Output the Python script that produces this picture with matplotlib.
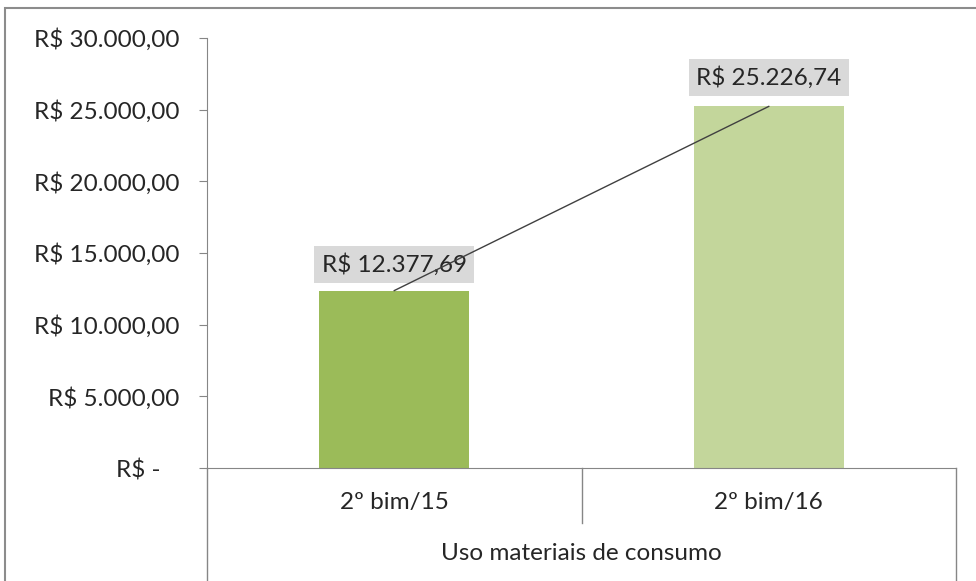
import matplotlib
matplotlib.use("Agg")
import matplotlib.pyplot as plt
from matplotlib.patches import Rectangle

plt.rcParams['font.family'] = ['Lato', 'DejaVu Sans']

categories = ["2º bim/15", "2º bim/16"]
values = [12377.69, 25226.74]
value_labels = ["R$ 12.377,69", "R$ 25.226,74"]
group_label = "Uso materiais de consumo"
yticks = [0, 5000, 10000, 15000, 20000, 25000, 30000]
ytick_labels = ["R$ -   ", "R$ 5.000,00", "R$ 10.000,00", "R$ 15.000,00",
                "R$ 20.000,00", "R$ 25.000,00", "R$ 30.000,00"]
bar_colors = ["#9bbb59", "#c3d69b"]
fs = 17.5

fig = plt.figure(figsize=(9.76, 5.81), dpi=100)
# outer chart frame
fig.patches.append(Rectangle((5 / 976, -0.1), 1.1, (581 - 8) / 581 + 0.1,
                             transform=fig.transFigure, fill=False,
                             edgecolor="#8c8c8c", linewidth=1.5))

ax = fig.add_axes([207 / 976, 113 / 581, 749 / 976, 430 / 581])
x = list(range(len(categories)))
ax.bar(x, values, width=0.4, color=bar_colors, zorder=2)

# line joining the tops of the bars
ax.plot(x, values, color="#404040", linewidth=1, zorder=4)

offsets = [19, 21]
for xi, v, lab, off in zip(x, values, value_labels, offsets):
    ax.annotate(lab, (xi, v), xytext=(0, off), textcoords="offset points",
                ha="center", va="center", fontsize=fs, color="#262626",
                bbox=dict(boxstyle="square,pad=0.3", fc="#d9d9d9", ec="none"),
                zorder=3)

ax.set_xlim(-0.5, 1.5)
ax.set_ylim(0, 30000)
ax.set_yticks(yticks)
ax.set_yticklabels(ytick_labels, fontsize=fs, color="#262626")
ax.tick_params(axis="y", length=6, color="#868686", pad=14)
ax.set_xticks([])

for s in ["top", "right"]:
    ax.spines[s].set_visible(False)
ax.spines["left"].set_color("#868686")
ax.spines["bottom"].set_color("#868686")

# category axis labels and dividers
tr = ax.transAxes
for xi, c in zip(x, categories):
    ax.text((xi + 0.5) / 2, -34 / 430, c, transform=tr, ha="center",
            va="center", fontsize=fs, color="#262626")
ax.text(0.5, -85 / 430, group_label, transform=tr, ha="center", va="center",
        fontsize=fs, color="#262626")
ax.plot([0.5, 0.5], [0, -55 / 430], transform=tr, color="#868686",
        linewidth=1, clip_on=False)
ax.plot([0, 0], [0, -120 / 430], transform=tr, color="#868686",
        linewidth=1, clip_on=False)
ax.plot([1, 1], [0, -120 / 430], transform=tr, color="#868686",
        linewidth=1, clip_on=False)

fig.savefig("out.png", dpi=100)
